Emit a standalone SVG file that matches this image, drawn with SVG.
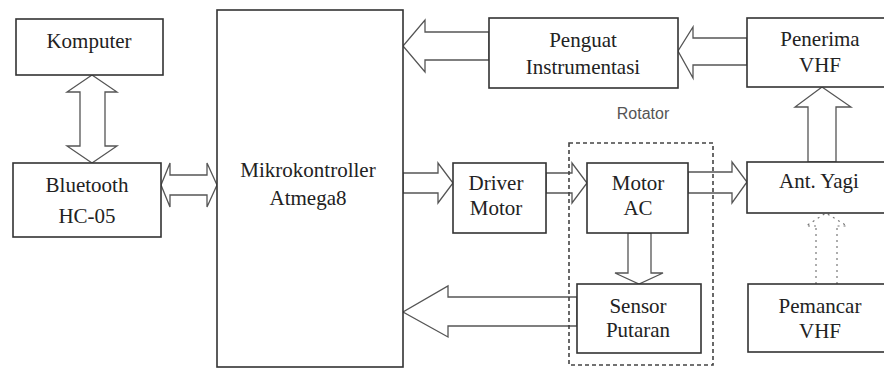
<svg xmlns="http://www.w3.org/2000/svg" width="884" height="368" viewBox="0 0 884 368">
<style>
.box{fill:#fff;stroke:#333;stroke-width:1.6}
.ar{fill:#fff;stroke:#555;stroke-width:1.3;stroke-linejoin:miter}
.dash{fill:none;stroke:#444;stroke-width:1.6;stroke-dasharray:4 3}
.dot{fill:none;stroke:#777;stroke-width:1.2;stroke-dasharray:2 4}
</style>
<rect width="884" height="368" fill="#fff"/>
<g id="connectors">
  <polygon class="ar" points="92,75 117,92 105,92 105,146 117,146 92,163 67,146 80,146 80,92 67,92"/>
  <polygon class="ar" points="161,185 170,163 170,175 207,175 207,163 217,185 207,207 207,195 170,195 170,207"/>
  <polygon class="ar" points="489,32 425,32 425,20 403,46 425,72 425,60 489,60"/>
  <polygon class="ar" points="747,38 693,38 693,27 678,51 693,78 693,65 747,65"/>
  <polygon class="ar" points="403,173 438,173 438,163 453,183 438,203 438,193 403,193"/>
  <polygon class="ar" points="546,173 572,173 572,163 587,183 572,203 572,193 546,193"/>
  <polygon class="ar" points="688,172 732,172 732,162 747,182 732,203 732,193 688,193"/>
  <polygon class="ar" points="808,162 808,107 795,107 822,87 851,107 836,107 836,162"/>
  <polygon class="ar" points="628,233 628,273 615,273 639,284 663,273 651,273 651,233"/>
  <polygon class="ar" points="577,297 448,297 448,286 403,312 448,337 448,326 577,326"/>
  <path class="dot" d="M816,284 V226 M837,284 V226 M816,226 H806 L826,213 L847,226 H837"/>
</g>
<g id="komputer"><rect class="box" x="16" y="19" width="147" height="56"/><text x="89" y="48" font-family="Liberation Serif, serif" font-size="21" fill="#222" text-anchor="middle">Komputer</text></g>
<g id="bluetooth"><rect class="box" x="13" y="163" width="148" height="74"/><text x="87" y="192" font-family="Liberation Serif, serif" font-size="21" fill="#222" text-anchor="middle">Bluetooth</text><text x="87" y="223" font-family="Liberation Serif, serif" font-size="21" fill="#222" text-anchor="middle">HC-05</text></g>
<g id="mikrokontroller"><rect class="box" x="217" y="10" width="186" height="357"/><text x="308" y="177" font-family="Liberation Serif, serif" font-size="21" fill="#222" text-anchor="middle">Mikrokontroller</text><text x="308" y="205" font-family="Liberation Serif, serif" font-size="21" fill="#222" text-anchor="middle">Atmega8</text></g>
<g id="penguat"><rect class="box" x="489" y="18" width="189" height="70"/><text x="583" y="47" font-family="Liberation Serif, serif" font-size="21" fill="#222" text-anchor="middle">Penguat</text><text x="583" y="74" font-family="Liberation Serif, serif" font-size="21" fill="#222" text-anchor="middle">Instrumentasi</text></g>
<g id="penerima"><rect class="box" x="747" y="18" width="145" height="69"/><text x="820" y="46" font-family="Liberation Serif, serif" font-size="21" fill="#222" text-anchor="middle">Penerima</text><text x="820" y="72" font-family="Liberation Serif, serif" font-size="21" fill="#222" text-anchor="middle">VHF</text></g>
<g id="driver"><rect class="box" x="453" y="163" width="93" height="70"/><text x="496" y="190" font-family="Liberation Serif, serif" font-size="21" fill="#222" text-anchor="middle">Driver</text><text x="496" y="215" font-family="Liberation Serif, serif" font-size="21" fill="#222" text-anchor="middle">Motor</text></g>
<g id="motor"><rect class="box" x="587" y="163" width="101" height="70"/><text x="638" y="190" font-family="Liberation Serif, serif" font-size="21" fill="#222" text-anchor="middle">Motor</text><text x="638" y="215" font-family="Liberation Serif, serif" font-size="21" fill="#222" text-anchor="middle">AC</text></g>
<g id="antyagi"><rect class="box" x="747" y="162" width="145" height="51"/><text x="819" y="188" font-family="Liberation Serif, serif" font-size="21" fill="#222" text-anchor="middle">Ant. Yagi</text></g>
<g id="sensor"><rect class="box" x="577" y="284" width="124" height="69"/><text x="638" y="313" font-family="Liberation Serif, serif" font-size="21" fill="#222" text-anchor="middle">Sensor</text><text x="638" y="337" font-family="Liberation Serif, serif" font-size="21" fill="#222" text-anchor="middle">Putaran</text></g>
<g id="pemancar"><rect class="box" x="748" y="284" width="144" height="68"/><text x="820" y="313" font-family="Liberation Serif, serif" font-size="21" fill="#222" text-anchor="middle">Pemancar</text><text x="820" y="338" font-family="Liberation Serif, serif" font-size="21" fill="#222" text-anchor="middle">VHF</text></g>
<g id="rotator"><rect class="dash" x="569" y="143" width="144" height="222"/><text x="643" y="119" font-family="Liberation Sans, sans-serif" font-size="16" fill="#555" text-anchor="middle">Rotator</text></g>
</svg>
